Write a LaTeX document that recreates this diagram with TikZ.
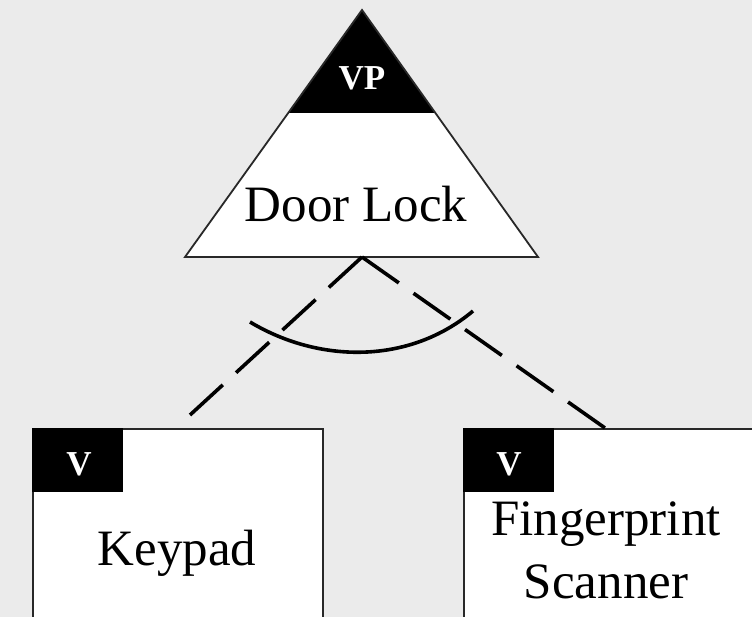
\documentclass[tikz,border=0pt]{standalone}
\usepackage{fontspec}
\setmainfont{Liberation Serif}
\definecolor{bg}{RGB}{235,235,235}
\definecolor{edge}{RGB}{40,40,40}
\begin{document}
\begin{tikzpicture}[x=1pt,y=-1pt,
  outline/.style={draw=edge, line width=1.8pt},
  tagbox/.style={fill=black, inner sep=0pt, minimum width=91pt, minimum height=64pt, anchor=north west},
  tagtext/.style={text=white, font=\fontsize{35}{35}\selectfont\bfseries, anchor=base, inner sep=0pt},
  label/.style={font=\fontsize{51}{60}\selectfont, anchor=base, inner sep=0pt},
  featbox/.style={outline, fill=white, minimum width=290pt, minimum height=215pt, anchor=north west, inner sep=0pt},
  link/.style={line width=3.6pt, dash pattern=on 45pt off 18pt},
  arcline/.style={line width=3.6pt},
]
\fill[bg] (0,0) rectangle (752,617);
\useasboundingbox (0,0) rectangle (752,617);

% variation point triangle
\fill[white] (362,10) -- (538,257) -- (185,257) -- cycle;
\fill[black] (362,10) -- (435.4,113) -- (288.2,113) -- cycle;
\draw[outline, line join=miter] (362,10) -- (538,257) -- (185,257) -- cycle;
\node[tagtext] (vp) at (362,90) {VP};
\node[label] (door) at (356,222) {Door Lock};
\coordinate (dlbase) at (362,257);

% Keypad
\node[featbox] (kp) at (32,428) {};
\node[tagbox] (kptag) at (32,428) {};
\node[tagtext] (kpv) at (79,475) {V};
\node[label] (kptext) at (177,565) {Keypad};
\coordinate (kpend) at (190,415);

% Fingerprint Scanner
\node[featbox] (fs) at (463,428) {};
\node[tagbox] (fstag) at (463,428) {};
\node[tagtext] (fsv) at (509,475) {V};
\node[label] (fstext1) at (606,535) {Fingerprint};
\node[label] (fstext2) at (606,598) {Scanner};
\coordinate (fsend) at (605,428);

% connectors
\draw[link] (dlbase) -- (kpend);
\draw[link] (dlbase) -- (fsend);
\coordinate (arcA) at (250,322);
\coordinate (arcB) at (473,311);
\draw[arcline] (arcA) .. controls (320,364) and (410,364) .. (arcB);
\end{tikzpicture}
\end{document}
